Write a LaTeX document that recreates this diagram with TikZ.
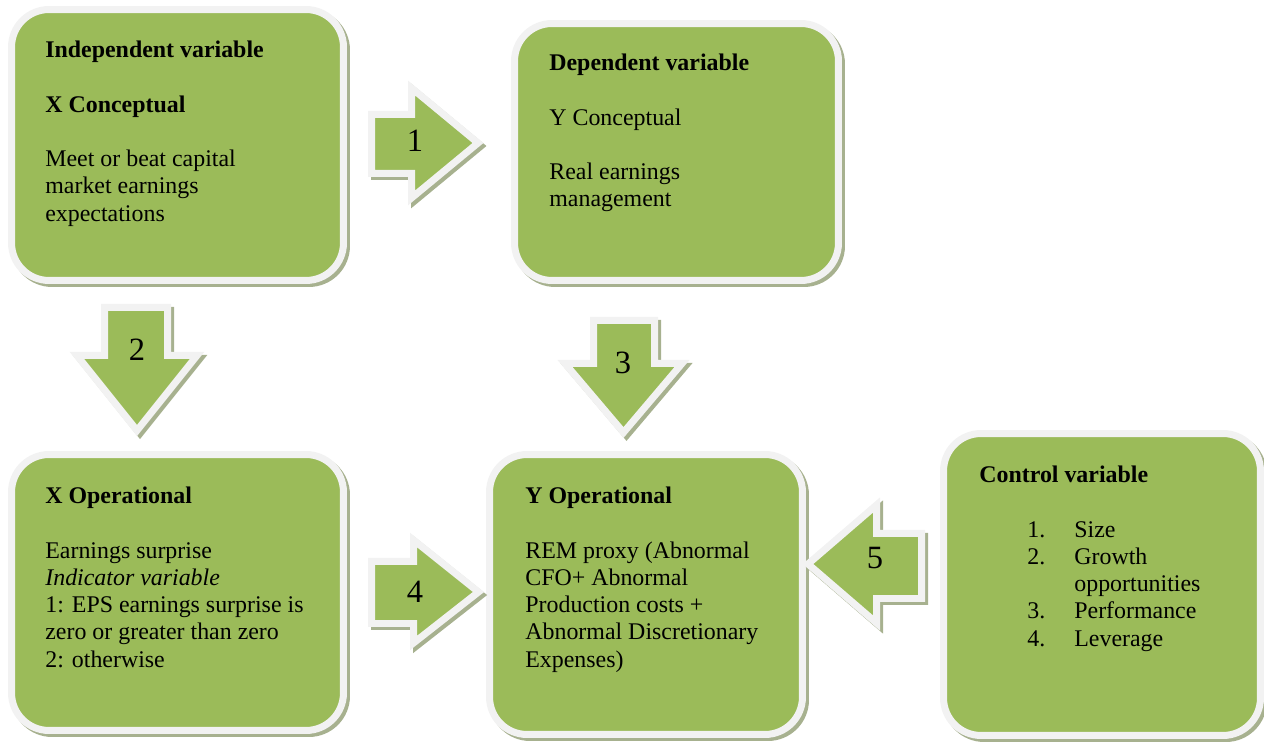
\documentclass[tikz,border=0pt]{standalone}
\usepackage{fontspec}
\setmainfont{Liberation Serif}
\usetikzlibrary{positioning,shadows}

\definecolor{boxgreen}{HTML}{9BBB59}
\definecolor{rimgray}{HTML}{F2F2F2}
\definecolor{shadegray}{HTML}{A7B18F}

% indented list entry: number, then item
\newcommand{\listitem}[2]{\hspace*{0.96cm}\makebox[0.94cm][l]{#1}#2}

\begin{document}
\begin{tikzpicture}[x=0.02cm,y=-0.02cm]
\tikzset{
% boxes and block arrows: green fill, light rim, shadow to the lower right
rim shadow/.style={general shadow={shadow xshift=0.06cm,shadow yshift=-0.06cm,fill=shadegray,draw=shadegray,line width=0.14cm}},
var box/.style={rectangle,rounded corners=0.75cm,fill=boxgreen,draw=rimgray,line width=0.14cm,outer sep=0,inner sep=0,rim shadow},
var text/.style={anchor=north west,inner sep=0,align=left,font=\fontsize{13.6}{15.5}\selectfont},
block arrow/.style={fill=boxgreen,draw=rimgray,line width=0.14cm,rim shadow},
num/.style={font=\fontsize{18.5}{20}\selectfont,inner sep=0}
}
\useasboundingbox (0,0) rectangle (1264,742);

% The boxes
\node (xcon) [var box,minimum width=6.64cm,minimum height=5.42cm] at (177.5,145) {};
\node (ycon) [var box,minimum width=6.48cm,minimum height=5.14cm] at (676.5,152) {};
\node (xop) [var box,minimum width=6.64cm,minimum height=5.52cm] at (177.5,592.5) {};
\node (yop) [var box,minimum width=6.26cm,minimum height=5.6cm] at (646,594.5) {};
\node (ctrl) [var box,minimum width=6.34cm,minimum height=6.04cm] at (1102,584.5) {};

% The block arrows
\path[block arrow] (371.5,114.5) -- (411.5,114.5) -- (411.5,88) -- (478,143) -- (411.5,198) -- (411.5,173.5) -- (371.5,173.5) -- cycle;
\path[block arrow] (104.5,307.5) -- (167.5,307.5) -- (167.5,355.5) -- (197,355.5) -- (137,430.5) -- (77,355.5) -- (104.5,355.5) -- cycle;
\path[block arrow] (593.5,320.5) -- (654.5,320.5) -- (654.5,363.5) -- (682,363.5) -- (623.5,432.5) -- (565,363.5) -- (593.5,363.5) -- cycle;
\path[block arrow] (371.5,561.5) -- (413.5,561.5) -- (413.5,540) -- (478.5,592) -- (413.5,643) -- (413.5,623.5) -- (371.5,623.5) -- cycle;
\path[block arrow] (921.5,533.5) -- (876.5,533.5) -- (876.5,505) -- (808,564) -- (876.5,623) -- (876.5,598.5) -- (921.5,598.5) -- cycle;

% numbers on the arrows
\node (n1) [num] at (415,141) {1};
\node (n2) [num] at (137,349.5) {2};
\node (n3) [num] at (623,362.5) {3};
\node (n4) [num] at (415,591.5) {4};
\node (n5) [num] at (875,558.5) {5};

% The texts
\node (xcontxt) [var text,below right=0.626cm and 0.67cm of xcon.north west]
  {\textbf{Independent variable}\\[15.5pt]\textbf{X Conceptual}\\[15.5pt]Meet or beat capital\\market earnings\\expectations};
\node (ycontxt) [var text,below right=0.606cm and 0.69cm of ycon.north west]
  {\textbf{Dependent variable}\\[15.5pt]Y Conceptual\\[15.5pt]Real earnings\\management};
\node (xoptxt) [var text,below right=0.646cm and 0.67cm of xop.north west]
  {\textbf{X Operational}\\[15.5pt]Earnings surprise\\\textit{Indicator variable}\\1: EPS earnings surprise is\\zero or greater than zero\\2: otherwise};
\node (yoptxt) [var text,below right=0.646cm and 0.71cm of yop.north west]
  {\textbf{Y Operational}\\[15.5pt]REM proxy (Abnormal\\CFO+ Abnormal\\Production costs +\\Abnormal Discretionary\\Expenses)};
\node (ctrltxt) [var text,below right=0.646cm and 0.71cm of ctrl.north west]
  {\textbf{Control variable}\\[15.5pt]\listitem{1.}{Size}\\\listitem{2.}{Growth}\\\listitem{}{opportunities}\\\listitem{3.}{Performance}\\\listitem{4.}{Leverage}};
\end{tikzpicture}
\end{document}
